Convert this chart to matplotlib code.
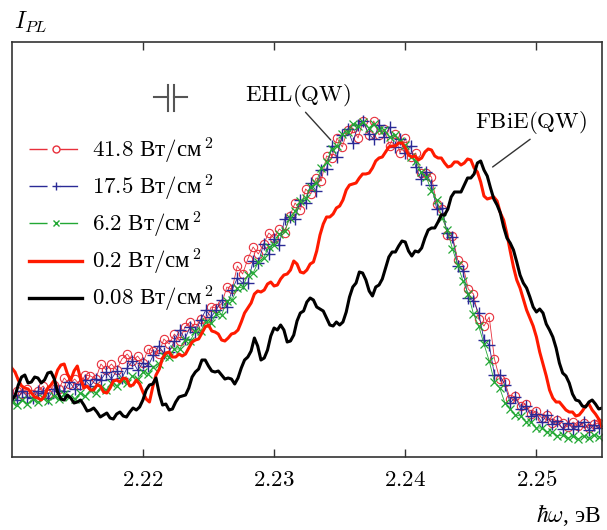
import numpy as np
import matplotlib
matplotlib.use("Agg")
import matplotlib.pyplot as plt
from matplotlib.lines import Line2D

plt.rcParams['font.family'] = ['Liberation Serif', 'DejaVu Serif']
plt.rcParams['mathtext.fontset'] = 'cm'

# photon energy grids (eV)
energy_line = np.linspace(2.2100, 2.2550, 181)
energy_mark = np.linspace(2.2100, 2.2548, 113)

# PL intensity, arb. units
pl_008 = [57, 61, 72, 80, 82, 74, 75, 80, 79, 74, 77, 84, 85, 78, 65, 58, 57, 62, 59, 54,
          55, 57, 52, 46, 47, 49, 45, 40, 42, 44, 39, 38, 43, 45, 41, 40, 45, 49, 47, 50,
          57, 67, 72, 73, 79, 63, 52, 53, 47, 48, 55, 60, 61, 62, 69, 80, 85, 88, 97, 97,
          91, 86, 85, 86, 82, 78, 79, 78, 73, 79, 89, 97, 100, 106, 119, 111, 97, 99, 107, 121,
          129, 127, 132, 127, 115, 116, 122, 136, 144, 146, 155, 159, 157, 150, 148, 146, 139, 132, 131, 135,
          132, 135, 145, 160, 170, 174, 185, 184, 177, 166, 161, 170, 172, 178, 189, 200, 205, 205, 211, 216,
          215, 206, 201, 206, 205, 209, 219, 227, 229, 229, 235, 242, 242, 248, 260, 265, 265, 265, 272, 279,
          279, 283, 294, 296, 287, 281, 269, 258, 252, 244, 230, 219, 214, 207, 195, 182, 174, 169, 160, 150,
          145, 148, 144, 133, 127, 120, 109, 94, 84, 81, 74, 63, 57, 56, 51, 50, 55, 57, 53, 48,
          49]

pl_02 = [89, 85, 77, 71, 69, 68, 64, 60, 59, 57, 61, 69, 72, 77, 87, 92, 93, 83, 77, 86,
         91, 78, 69, 71, 67, 67, 72, 71, 65, 64, 69, 76, 77, 75, 79, 78, 71, 72, 77, 73,
         65, 58, 55, 70, 82, 88, 99, 104, 105, 100, 100, 103, 101, 103, 109, 115, 117, 118, 124, 130,
         132, 126, 125, 123, 117, 116, 119, 123, 124, 127, 135, 144, 149, 154, 163, 166, 165, 167, 173, 175,
         171, 172, 178, 182, 183, 187, 196, 193, 185, 184, 187, 193, 195, 206, 222, 233, 240, 240, 243, 249,
         251, 257, 267, 272, 273, 274, 279, 283, 283, 284, 289, 296, 299, 300, 305, 310, 311, 311, 314, 314,
         309, 302, 300, 301, 297, 299, 305, 308, 307, 301, 299, 299, 294, 290, 291, 295, 295, 292, 294, 298,
         297, 289, 285, 275, 261, 258, 259, 260, 256, 244, 237, 223, 206, 190, 177, 169, 158, 147, 139, 131,
         120, 105, 93, 81, 67, 59, 55, 55, 51, 47, 45, 45, 41, 42, 46, 51, 53, 47, 43, 38,
         30]

pl_418 = [60, 66, 63, 68, 63, 66, 71, 63, 72, 68, 79, 73, 78, 72, 82, 81, 78, 93, 87, 93,
          87, 98, 103, 96, 101, 94, 108, 106, 103, 118, 113, 123, 116, 130, 135, 129, 138, 136, 150, 149,
          153, 170, 168, 191, 183, 198, 210, 203, 213, 224, 219, 228, 224, 241, 254, 247, 268, 263, 279, 276,
          301, 299, 319, 310, 327, 329, 319, 336, 322, 336, 322, 328, 311, 323, 304, 319, 300, 304, 284, 284,
          280, 253, 248, 222, 221, 197, 192, 168, 163, 138, 131, 140, 98, 78, 75, 58, 61, 51, 53, 43,
          46, 39, 42, 34, 37, 34, 30, 35, 31, 34, 29, 33, 34]

pl_175 = [62, 57, 66, 60, 59, 66, 64, 59, 68, 66, 66, 75, 68, 73, 77, 71, 78, 77, 85, 78,
          86, 79, 89, 96, 87, 94, 91, 102, 111, 104, 105, 116, 127, 118, 130, 125, 137, 147, 140, 147,
          157, 150, 167, 179, 174, 174, 196, 194, 213, 203, 218, 212, 238, 240, 238, 257, 254, 274, 266, 287,
          288, 311, 300, 322, 328, 314, 332, 336, 323, 318, 332, 320, 330, 310, 318, 304, 311, 290, 278, 285,
          272, 248, 249, 224, 220, 191, 186, 159, 156, 144, 117, 112, 82, 82, 72, 54, 60, 48, 51, 41,
          43, 35, 42, 33, 36, 28, 34, 28, 31, 35, 27, 32, 29]

pl_62 = [55, 52, 57, 53, 58, 55, 59, 56, 61, 58, 63, 60, 58, 64, 61, 67, 64, 70, 67, 74,
         71, 77, 74, 81, 78, 85, 83, 90, 93, 101, 100, 108, 108, 117, 116, 126, 126, 135, 134, 143,
         142, 156, 157, 169, 170, 182, 184, 195, 199, 210, 212, 223, 226, 239, 246, 256, 259, 270, 274, 289,
         295, 308, 311, 323, 325, 333, 331, 335, 329, 333, 327, 327, 320, 322, 316, 312, 300, 296, 285, 280,
         266, 257, 239, 227, 208, 192, 176, 163, 143, 131, 113, 96, 75, 69, 54, 48, 42, 41, 35, 35,
         29, 29, 25, 25, 21, 22, 19, 21, 18, 21, 19, 22, 20]

labels = ['$41.8\\ $Вт$/$см$^{\\,2}$', '$17.5\\ $Вт$/$см$^{\\,2}$', '$6.2\\ $Вт$/$см$^{\\,2}$',
          '$0.2\\ $Вт$/$см$^{\\,2}$', '$0.08\\ $Вт$/$см$^{\\,2}$']
tick_vals = [2.22, 2.23, 2.24, 2.25]

c_red = '#e8303c'
c_blue = '#2a2a96'
c_green = '#22a834'

fig = plt.figure(figsize=(6.07, 5.30), dpi=100)
ax = fig.add_axes([0.0193, 0.1377, 0.9725, 0.7831])

ax.plot(energy_mark, pl_418, color=c_red, lw=0.6, marker='o', ms=6,
        mfc='none', mec=c_red, mew=0.8)
ax.plot(energy_mark, pl_175, color=c_blue, lw=0.6, marker='+', ms=9, mew=1.0)
ax.plot(energy_mark, pl_62, color=c_green, lw=0.6, marker='x', ms=6, mew=0.9)
ax.plot(energy_line, pl_02, color='#ff1a00', lw=2.2)
ax.plot(energy_line, pl_008, color='black', lw=2.2)

# spectral resolution mark
ax.plot([2.2219, 2.2219], [346, 372], color='#555555', lw=1.5)
ax.plot([2.22236, 2.22236], [346, 372], color='#555555', lw=1.5)
ax.plot([2.22084, 2.2219], [360, 360], color='#555555', lw=1.5)
ax.plot([2.22236, 2.22335], [360, 360], color='#555555', lw=1.5)

ax.annotate(r'$\mathrm{EHL(QW)}$', xy=(2.23432, 317), xytext=(2.2318, 361), fontsize=16.5,
            ha='center', va='center',
            arrowprops=dict(arrowstyle='-', color='#333333', lw=1.0,
                            shrinkA=0, shrinkB=0, relpos=(0.55, 0.0)))
ax.annotate(r'$\mathrm{FBiE(QW)}$', xy=(2.24666, 290), xytext=(2.24955, 334), fontsize=16.5,
            ha='center', va='center',
            arrowprops=dict(arrowstyle='-', color='#333333', lw=1.0,
                            shrinkA=0, shrinkB=0, relpos=(0.53, 0.0)))

dash = (0, (13, 9))
handles = [
    Line2D([], [], color=c_red, lw=1.0, ls=dash, marker='o', ms=5, mfc='none', mec=c_red),
    Line2D([], [], color=c_blue, lw=1.0, ls=dash, marker='+', ms=6),
    Line2D([], [], color=c_green, lw=1.0, ls=dash, marker='x', ms=4.5),
    Line2D([], [], color='#ff1a00', lw=2.4),
    Line2D([], [], color='black', lw=2.4),
]
ax.legend(handles, labels, loc='upper left', bbox_to_anchor=(0.03, 0.775),
          frameon=False, fontsize=16.5, borderpad=0, borderaxespad=0,
          handlelength=2.3, handletextpad=0.45, labelspacing=0.3)

ax.set_xlim(2.210, 2.255)
ax.set_ylim(0, 415)
ax.set_xticks(tick_vals)
ax.set_xticklabels(['$%.2f$' % v for v in tick_vals])
ax.set_yticks([])
ax.tick_params(axis='x', direction='in', top=True, length=6, width=1.0,
               labelsize=16.5, pad=9, color='#333333')
for s in ax.spines.values():
    s.set_color('#333333')
    s.set_linewidth(1.2)

fig.text(0.023, 0.958, r'$I_{PL}$', fontsize=17, ha='left', va='center')
fig.text(0.99, 0.028, r'$\hbar\omega$, эВ', fontsize=17, ha='right', va='center')

fig.savefig('out.png', dpi=100)
